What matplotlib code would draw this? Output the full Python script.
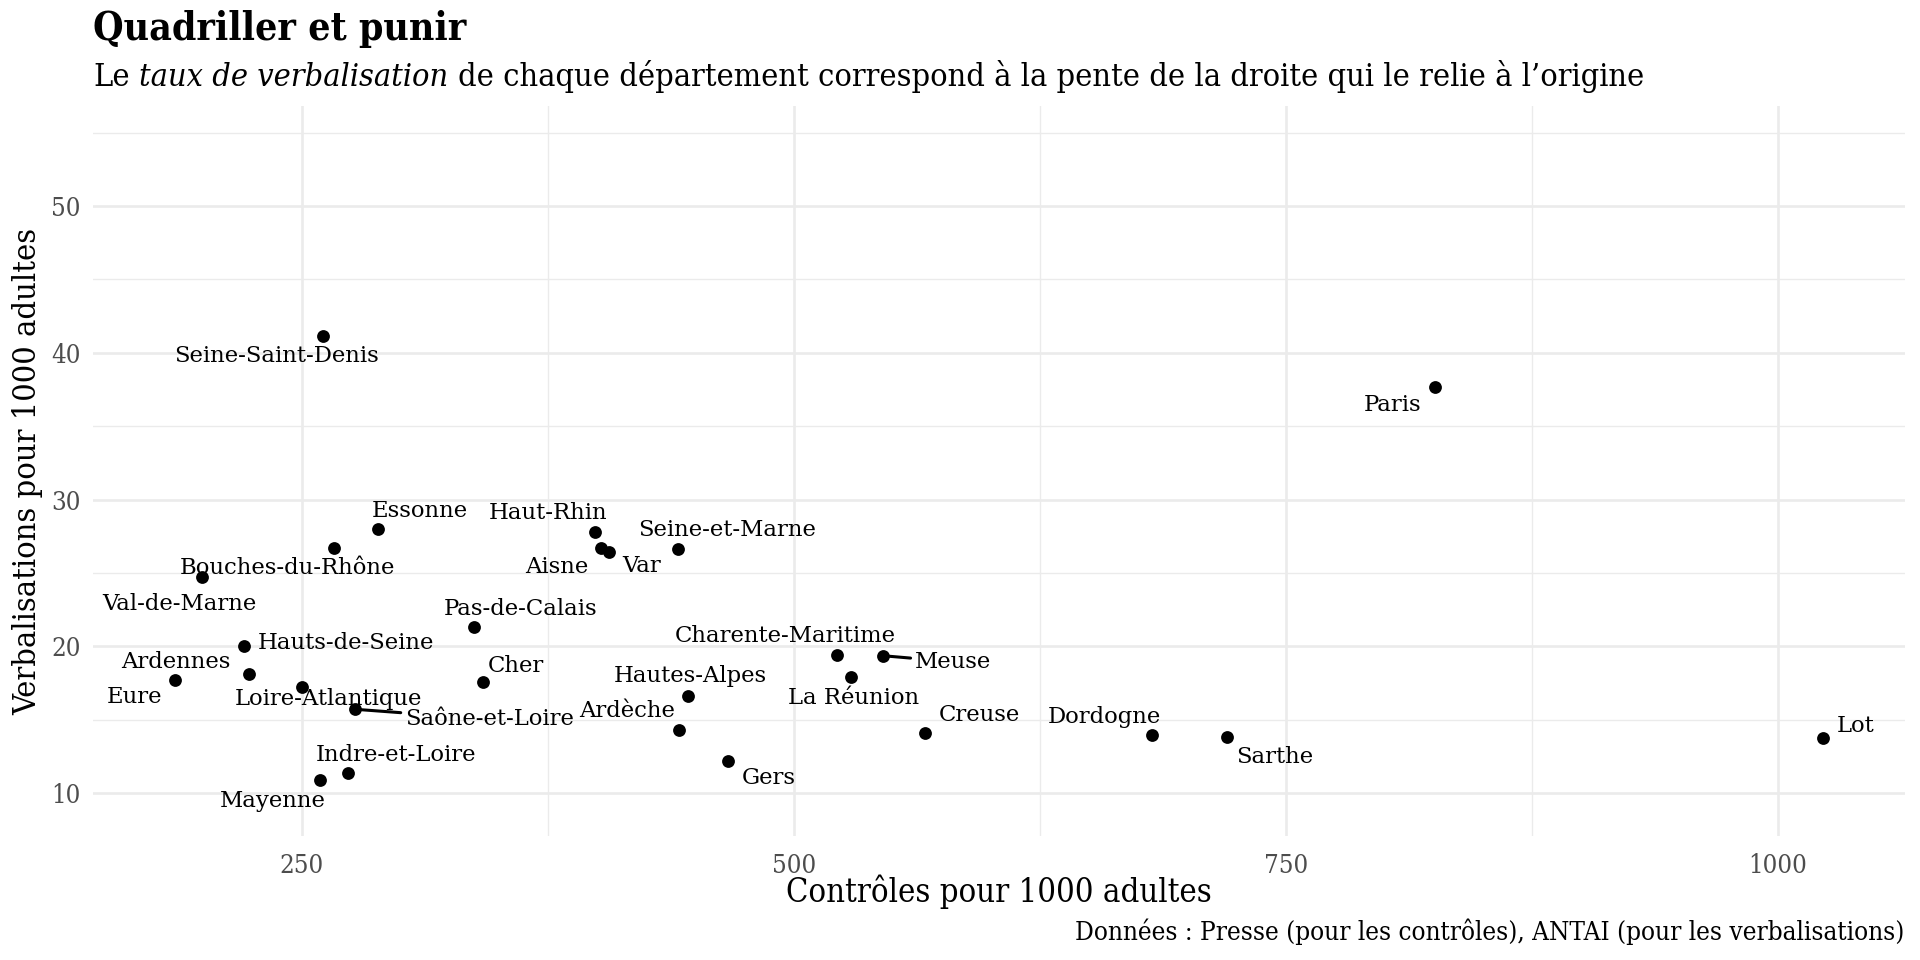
import matplotlib
matplotlib.use('Agg')
import matplotlib.pyplot as plt
from matplotlib import font_manager as fm
from matplotlib.ticker import FixedLocator

# ---------------- data ----------------
departements = ["Seine-Saint-Denis", "Paris", "Essonne", "Bouches-du-Rhône", "Val-de-Marne",
                "Haut-Rhin", "Aisne", "Var", "Seine-et-Marne", "Pas-de-Calais",
                "Hauts-de-Seine", "Ardennes", "Eure", "Loire-Atlantique", "Saône-et-Loire",
                "Cher", "Indre-et-Loire", "Mayenne", "Hautes-Alpes", "Ardèche",
                "Gers", "Charente-Maritime", "Meuse", "La Réunion", "Creuse",
                "Dordogne", "Sarthe", "Lot"]
controles = [261.0, 825.8, 288.9, 266.4, 199.2,
             398.9, 402.1, 406.0, 441.0, 337.4,
             220.8, 223.4, 185.8, 250.2, 277.2,
             341.9, 273.7, 259.3, 446.4, 441.5,
             466.6, 522.0, 545.2, 529.2, 566.8,
             681.8, 720.1, 1022.7]
verbalisations = [41.17, 37.68, 28.00, 26.73, 24.73,
                  27.80, 26.73, 26.46, 26.62, 21.35,
                  20.03, 18.13, 17.70, 17.26, 15.72,
                  17.60, 11.40, 10.91, 16.61, 14.29,
                  12.22, 19.44, 19.37, 17.92, 14.09,
                  13.99, 13.86, 13.79]
x_ticks = [250, 500, 750, 1000]
y_ticks = [10, 20, 30, 40, 50]

# ---------------- label layout (pixel offsets from point) ----------------
label_offsets = [(-47, -20), (-43, -18), (41, 18), (-47, -20), (-22, -27),
                 (-47, 19), (-44, -19), (33, -14), (49, 19), (47, 18),
                 (102, 3), (-74, 12), (-41, -17), (26, -12), (134, -10),
                 (33, 16), (48, 18), (-47, -21), (2, 20), (-52, 19),
                 (41, -17), (-52, 19), (70, -6), (2, -21), (54, 18),
                 (-47, 18), (48, -20), (33, 12)]
with_segment = {"Saône-et-Loire", "Meuse"}

# ---------------- fonts ----------------
def cond_font(weight='normal', style='normal'):
    cands = []
    for f in fm.fontManager.ttflist:
        if 'SerifCondensed' in f.fname.replace(' ', '').replace('-', ''):
            fn = f.fname
            b = 'Bold' in fn
            i = 'Italic' in fn or 'Oblique' in fn
            if b == (weight == 'bold') and i == (style == 'italic'):
                cands.append(fn)
    if cands:
        return fm.FontProperties(fname=sorted(cands)[0])
    return fm.FontProperties(family='DejaVu Serif', weight=weight, style=style)

plt.rcParams['font.family'] = 'DejaVu Serif'

fig = plt.figure(figsize=(19.2, 9.6), dpi=100)
ax = fig.add_axes([0.0486, 0.1292, 0.9922 - 0.0486, 0.8896 - 0.1292])

ax.set_xlim(144.1, 1064.5)
ax.set_ylim(7.09, 56.82)
ax.xaxis.set_major_locator(FixedLocator(x_ticks))
ax.yaxis.set_major_locator(FixedLocator(y_ticks))
ax.xaxis.set_minor_locator(FixedLocator([375, 625, 875]))
ax.yaxis.set_minor_locator(FixedLocator([15, 25, 35, 45, 55]))
ax.grid(which='major', color='#EBEBEB', linewidth=1.9)
ax.grid(which='minor', color='#EBEBEB', linewidth=1.0)
ax.set_axisbelow(True)
for s in ax.spines.values():
    s.set_visible(False)
ax.tick_params(which='both', length=0)
ax.tick_params(axis='x', pad=12)
ax.tick_params(axis='y', pad=9)
tickfp = cond_font()
for lab in ax.get_xticklabels() + ax.get_yticklabels():
    lab.set_fontproperties(tickfp)
    lab.set_fontsize(18.5)
    lab.set_color('#4D4D4D')

ax.scatter(controles, verbalisations, s=85, color='black', zorder=3, linewidths=0)

for name, x, y, (dx, dy) in zip(departements, controles, verbalisations, label_offsets):
    kw = {}
    if name in with_segment:
        kw['arrowprops'] = dict(arrowstyle='-', color='black', lw=2.2, shrinkA=1, shrinkB=3)
    ax.annotate(name, (x, y), xytext=(dx, dy), textcoords='offset pixels',
                ha='center', va='center', fontsize=16.4, color='black',
                family='DejaVu Serif', zorder=4, **kw)

# axis titles
fig.text(0.5204, 0.0604, "Contrôles pour 1000 adultes", ha='center', va='baseline',
         fontproperties=cond_font(), fontsize=23.5)
fig.text(0.0145, 0.509, "Verbalisations pour 1000 adultes", ha='center', va='center',
         rotation=90, fontproperties=cond_font(), fontsize=23.3)

# caption
fig.text(0.9917, 0.0208, "Données : Presse (pour les contrôles), ANTAI (pour les verbalisations)",
         ha='right', va='baseline', fontproperties=cond_font(), fontsize=18.7)

# title
fig.text(0.0486, 0.958, "Quadriller et punir", ha='left', va='baseline',
         fontproperties=cond_font(weight='bold'), fontsize=28.1)

# subtitle (mixed regular / italic)
fig.canvas.draw()
renderer = fig.canvas.get_renderer()
sub_y = 0.9107
sub_size = 23.2
parts = [("Le", 'normal'), ("taux de verbalisation", 'italic'),
         ("de chaque département correspond à la pente de la droite qui le relie à l’origine", 'normal')]
fp_reg = cond_font()
def width_px(s, fp):
    t = fig.text(0, 0, s, fontproperties=fp, fontsize=sub_size)
    w = t.get_window_extent(renderer).width
    t.remove()
    return w
space = width_px("x x", fp_reg) - width_px("xx", fp_reg)
xpx = 0.0486 * fig.bbox.width
for txt, st in parts:
    fp = cond_font(style=st)
    t = fig.text(xpx / fig.bbox.width, sub_y, txt, ha='left', va='baseline',
                 fontproperties=fp, fontsize=sub_size)
    xpx += t.get_window_extent(renderer).width + space

fig.savefig('out.png', dpi=100)
